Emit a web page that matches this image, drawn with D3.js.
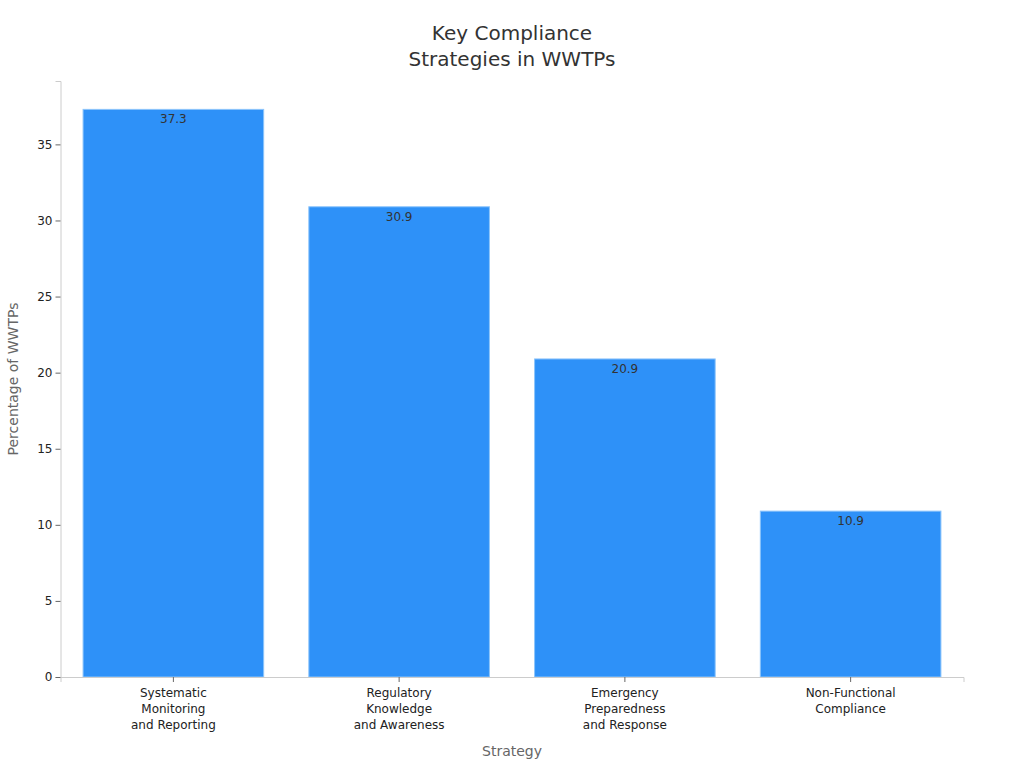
<!DOCTYPE html>
<html><head><meta charset="utf-8">
<script src="https://cdn.jsdelivr.net/npm/d3@7"></script>
<style>body{margin:0;background:#fff;font-family:"DejaVu Sans",sans-serif;}</style>
</head><body><svg id="c" width="1024" height="768"></svg>
<script>
const categories = [["Systematic","Monitoring","and Reporting"],["Regulatory","Knowledge","and Awareness"],["Emergency","Preparedness","and Response"],["Non-Functional","Compliance"]];
const values = [37.3, 30.9, 20.9, 10.9];
const yTicks = [0,5,10,15,20,25,30,35];
const titleLines = ["Key Compliance","Strategies in WWTPs"];

const svg = d3.select("#c");
const m = {l:60.5, r:60.5, t:81, b:91};
const W = 1024, H = 768;
const keys = categories.map((c,i)=>i);
const x = d3.scaleBand().domain(keys).range([m.l, W-m.r]).paddingInner(0.2).paddingOuter(0.1);
const y = d3.scaleLinear().domain([0, d3.max(values)*1.05]).range([H-m.b, m.t]);

const ff = "DejaVu Sans, sans-serif";
// bars
svg.selectAll("rect.bar").data(values).join("rect")
  .attr("x",(d,i)=>x(i)).attr("y",d=>y(d))
  .attr("width",x.bandwidth()).attr("height",d=>y(0)-y(d))
  .attr("fill","#2e91f8").attr("stroke","#8cc4fb").attr("stroke-width",1);
svg.selectAll("text.val").data(values).join("text")
  .attr("x",(d,i)=>x(i)+x.bandwidth()/2).attr("y",d=>y(d)+14)
  .attr("text-anchor","middle").attr("font-family",ff).attr("font-size",12)
  .attr("fill","#333").text(d=>d.toFixed(1));

// y axis
const ya = svg.append("g").attr("transform",`translate(${m.l},0)`)
  .call(d3.axisLeft(y).tickValues(yTicks).tickSize(5).tickPadding(3));
ya.select(".domain").attr("stroke","#ccc");
ya.selectAll(".tick line").attr("stroke","#666");
ya.selectAll(".tick text").attr("font-family",ff).attr("font-size",12).attr("fill","#222");

// x axis
const xa = svg.append("g").attr("transform",`translate(0,${y(0)})`)
  .call(d3.axisBottom(x).tickSize(5).tickFormat(""));
xa.select(".domain").attr("stroke","#ccc");
xa.selectAll(".tick line").attr("stroke","#666");
xa.selectAll(".tick").each(function(d){
  const t = d3.select(this).append("text").attr("text-anchor","middle")
    .attr("font-family",ff).attr("font-size",12).attr("fill","#222");
  categories[d].forEach((ln,j)=>t.append("tspan").attr("x",0).attr("y",20+j*16).text(ln));
});

// titles
const tt = svg.append("text").attr("text-anchor","middle").attr("font-family",ff)
  .attr("font-size",20).attr("fill","#333");
titleLines.forEach((ln,j)=>tt.append("tspan").attr("x",512).attr("y",40+j*26).text(ln));
svg.append("text").attr("x",(m.l+W-m.r)/2).attr("y",756).attr("text-anchor","middle")
  .attr("font-family",ff).attr("font-size",14).attr("fill","#666").text("Strategy");
svg.append("text").attr("transform",`translate(18,${(m.t+H-m.b)/2}) rotate(-90)`)
  .attr("text-anchor","middle").attr("font-family",ff).attr("font-size",14)
  .attr("fill","#666").text("Percentage of WWTPs");
</script></body></html>
